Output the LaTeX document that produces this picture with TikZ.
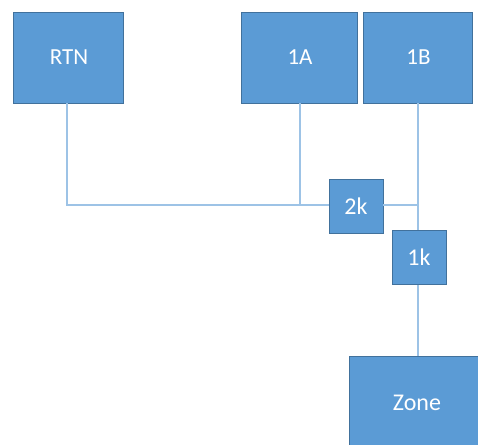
\documentclass[tikz,border=0pt]{standalone}
\usepackage{fontspec}
\setmainfont{Carlito}
\definecolor{boxfill}{HTML}{5B9BD5}
\definecolor{boxline}{HTML}{41719C}
\definecolor{wire}{HTML}{9DC3E6}
\begin{document}
\begin{tikzpicture}[x=1pt,y=-1pt,
  blk/.style={draw=boxline,line width=0.6pt,fill=boxfill,text=white,font=\fontsize{23}{26}\selectfont,inner sep=0pt},
  wireline/.style={draw=wire,line width=1.3pt}]
\useasboundingbox (0,0) rectangle (478,444);
\clip (0,0) rectangle (478,444);
\node[blk,minimum width=110pt,minimum height=91pt] (rtn) at (68,57.5) {\hspace*{2pt}RTN};
\node[blk,minimum width=116pt,minimum height=91pt] (a1) at (299,57.5) {\raisebox{-6pt}{\hspace*{2pt}1A}};
\node[blk,minimum width=109pt,minimum height=91pt] (b1) at (417.5,57.5) {\raisebox{-6pt}{\hspace*{2pt}1B}};
\coordinate (c1) at (67,205);
\coordinate (c2) at (300,205);
\coordinate (c3) at (418,205);
\draw[wireline] (rtn.south -| c1) -- (c1) -- (c2);
\draw[wireline] (a1.south -| c2) -- (c2);
\node[blk,minimum width=54pt,minimum height=54pt,font=\fontsize{24}{26}\selectfont] (k2) at (356,206) {2k};
\draw[wireline] (c2) -- (k2.west |- c2);
\draw[wireline] (k2.east |- c3) -- (c3);
\node[blk,minimum width=131pt,minimum height=94pt,font=\fontsize{24}{26}\selectfont] (zone) at (414.5,403) {\hspace*{5pt}Zone};
\draw[wireline] (b1.south -| c3) -- (zone.north -| c3);
\node[blk,minimum width=54pt,minimum height=54pt,font=\fontsize{24}{26}\selectfont] (k1) at (419,257) {1k};
\end{tikzpicture}
\end{document}
